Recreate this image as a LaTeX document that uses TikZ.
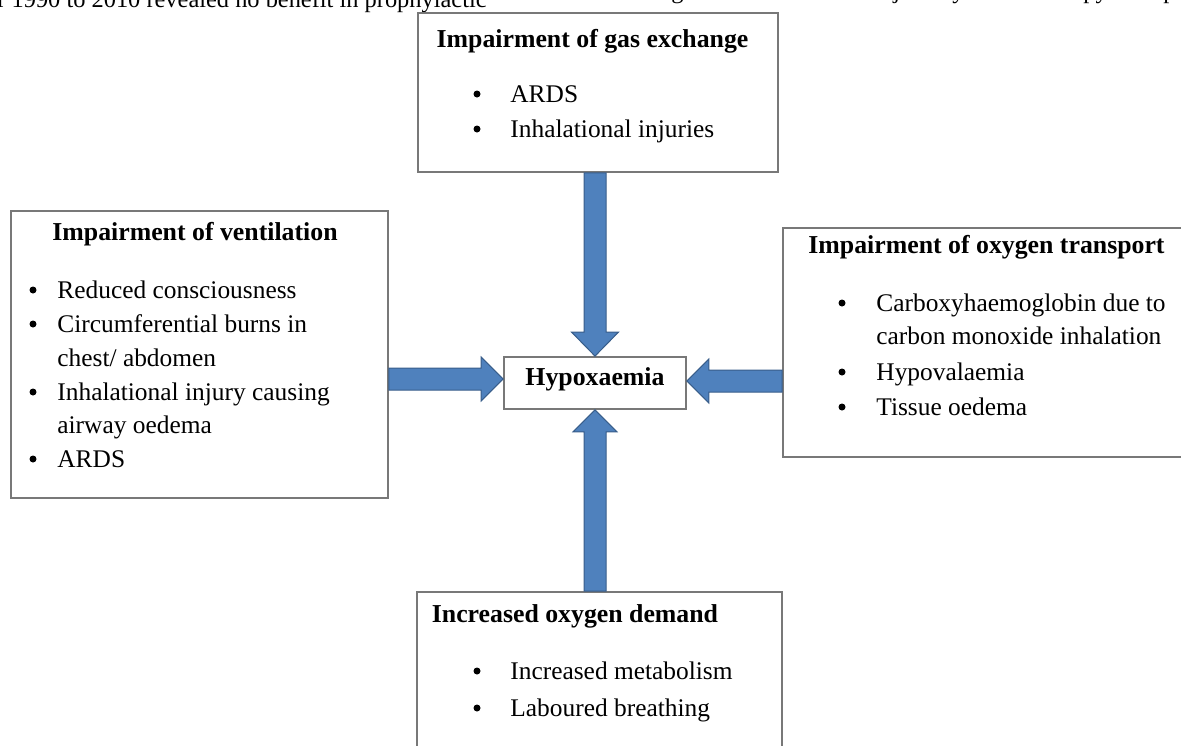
\documentclass[tikz,border=0pt]{standalone}
\usepackage{fontspec}
\setmainfont{Liberation Serif}
\usetikzlibrary{calc}
\definecolor{arrowfill}{RGB}{79,129,189}
\definecolor{arrowline}{RGB}{56,93,138}
\definecolor{boxline}{RGB}{120,120,120}
\begin{document}
\begin{tikzpicture}[x=0.5pt,y=-0.5pt,
  box/.style={draw=boxline,line width=0.9pt,fill=white,rectangle,inner sep=0pt},
  txt/.style={anchor=base west,inner sep=0pt,font=\fontsize{12.7}{15}\selectfont},
  ttl/.style={anchor=base,inner sep=0pt,font=\fontsize{12.9}{15}\selectfont\bfseries},
  bul/.style={circle,fill=black,inner sep=0pt,minimum size=3.5pt},
  pagetxt/.style={anchor=base west,inner sep=0pt,font=\fontsize{12.2}{15}\selectfont},
  barrow/.style={fill=arrowfill,draw=arrowline,line width=0.5pt,line join=miter}]
\useasboundingbox (0,0) rectangle (1181,745);
\clip (0,0) rectangle (1181,745);

% cut-off line of page text
\node[pagetxt] (pagetext) at (-3,7.3) {r 1990 to 2010 revealed no benefit in prophylactic};
\begin{scope}
  \clip (490,0) rectangle (1181,5);
  \node[pagetxt] (frag1) at (671,-1.5) {g};
  \node[pagetxt] (frag2) at (893,-1.5) {j};
  \node[pagetxt] (frag3) at (952,-1.5) {y};
  \node[pagetxt] (frag4) at (1083,-1.5) {py};
  \node[pagetxt] (frag5) at (1163,-1.5) {p};
\end{scope}

% boxes
\node[box,minimum width=180pt,minimum height=79.5pt] (gas) at (598,92.5) {};
\node[box,minimum width=188.5pt,minimum height=143.5pt] (vent) at (199.5,354.5) {};
\node[box,minimum width=206pt,minimum height=114.5pt] (trans) at (989,342.5) {};
\node[box,minimum width=182.5pt,minimum height=89pt] (dem) at (599.5,681) {};
\node[box,minimum width=91pt,minimum height=26pt] (hyp) at (595,383) {};

% block arrows
\coordinate (ta) at (hyp.north |- gas.south);
\draw[barrow] ($(ta)+(-11,0)$) -- ($(hyp.north)+(-11,-24)$) -- ($(hyp.north)+(-23.5,-24)$)
  -- (hyp.north) -- ($(hyp.north)+(23.5,-24)$) -- ($(hyp.north)+(11,-24)$) -- ($(ta)+(11,0)$) -- cycle;
\coordinate (ba) at (hyp.south |- dem.north);
\draw[barrow] ($(ba)+(-11,0)$) -- ($(hyp.south)+(-11,22)$) -- ($(hyp.south)+(-22,22)$)
  -- (hyp.south) -- ($(hyp.south)+(22,22)$) -- ($(hyp.south)+(11,22)$) -- ($(ba)+(11,0)$) -- cycle;
\coordinate (lb) at ($(hyp.west)+(0,-4)$);
\coordinate (la) at (vent.east |- lb);
\draw[barrow] ($(la)+(0,-11)$) -- ($(lb)+(-22,-11)$) -- ($(lb)+(-22,-22)$)
  -- (lb) -- ($(lb)+(-22,22)$) -- ($(lb)+(-22,11)$) -- ($(la)+(0,11)$) -- cycle;
\coordinate (rb) at ($(hyp.east)+(0,-2)$);
\coordinate (ra) at (trans.west |- rb);
\draw[barrow] ($(ra)+(0,-11)$) -- ($(rb)+(22,-11)$) -- ($(rb)+(22,-22)$)
  -- (rb) -- ($(rb)+(22,22)$) -- ($(rb)+(22,11)$) -- ($(ra)+(0,11)$) -- cycle;

% centre label
\node[ttl] (hyplabel) at (595,385) {Hypoxaemia};

% top box
\node[ttl] (gast) at (592.5,47) {Impairment of gas exchange};
\node[bul] (gasb1) at (477,94) {};
\node[txt] (gas1) at (510,102) {ARDS};
\node[bul] (gasb2) at (477,129) {};
\node[txt] (gas2) at (510,137) {Inhalational injuries};

% left box
\node[ttl] (ventt) at (195,240) {Impairment of ventilation};
\node[bul] (ventb1) at (33,290) {};
\node[txt] (vent1) at (57,298) {Reduced consciousness};
\node[bul] (ventb2) at (33,324) {};
\node[txt] (vent2) at (57,332) {Circumferential burns in};
\node[txt] (vent3) at (57,366) {chest/ abdomen};
\node[bul] (ventb3) at (33,392) {};
\node[txt] (vent4) at (57,400) {Inhalational injury causing};
\node[txt] (vent5) at (57,433) {airway oedema};
\node[bul] (ventb4) at (33,459) {};
\node[txt] (vent6) at (57,467) {ARDS};

% right box
\node[ttl] (transt) at (986.5,253) {Impairment of oxygen transport};
\node[bul] (transb1) at (842,303) {};
\node[txt] (trans1) at (876,311) {Carboxyhaemoglobin due to};
\node[txt] (trans2) at (876,344) {carbon monoxide inhalation};
\node[bul] (transb2) at (842,372) {};
\node[txt] (trans3) at (876,380) {Hypovalaemia};
\node[bul] (transb3) at (842,407) {};
\node[txt] (trans4) at (876,415) {Tissue oedema};

% bottom box
\node[ttl] (demt) at (575,622) {Increased oxygen demand};
\node[bul] (demb1) at (477,671) {};
\node[txt] (dem1) at (510,679) {Increased metabolism};
\node[bul] (demb2) at (477,708) {};
\node[txt] (dem2) at (510,716) {Laboured breathing};
\end{tikzpicture}
\end{document}
